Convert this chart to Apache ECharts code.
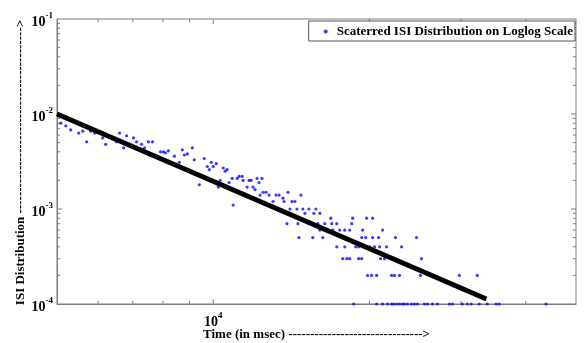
<!DOCTYPE html>
<html>
<head>
<meta charset="utf-8">
<script src="https://cdn.jsdelivr.net/npm/echarts@6/dist/echarts.min.js"></script>
<style>
html,body{margin:0;padding:0;background:#fff;}
#chart{width:585px;height:343px;}
</style>
</head>
<body>
<div id="chart"></div>
<script>
// ---- data ----
const seriesName = 'Scaterred ISI Distribution on Loglog Scale';
const xTitle = 'Time (in msec) ' + '-'.repeat(31) + '>';
const yTitle = 'ISI Distribution ' + '-'.repeat(43) + '>';

const timeMs = [
  5085, 5198, 5314, 5506, 5605, 5704, 5806, 5910, 6122, 6205,
  6513, 6600, 6719, 6808, 7021, 7116, 7275, 7373, 7503, 7637,
  7842, 7912, 8017, 8089, 8196, 8416, 8604, 8720, 8797, 8915,
  9114, 9194, 9399, 9610, 9739, 9824, 9912, 10000, 10134, 10223,
  10314, 10452, 10544, 10638, 10732, 10876, 10924, 11119, 11217, 11367,
  11417, 11621, 11723, 11827, 11933, 12038, 12146, 12253, 12415, 12307,
  12474, 12639, 12809, 13038, 13211, 13389, 13629, 13689, 13932, 14178,
  14369, 14755,
  14055, 14495, 14884, 15286, 15766,
  15018, 15628, 16048,
  13868, 14559, 15904, 16406, 16921, 17298, 18484,
  16846, 18565, 19751, 20281,
  14626, 15556, 16260, 19320, 19665, 20281, 20826, 22451, 24639,
  16048, 16334, 16995, 17531, 17923, 18323, 19405, 21199,
  17298, 17923, 18814, 19063, 20012, 20460, 20918, 21579, 23059,
  17763, 18080, 18323, 19063, 19320, 21012, 21386, 25189,
  19838, 20193, 20645, 22061, 22353, 22853, 25073, 29798, 32259,
  18646, 20645, 21199, 21673, 22061, 22255, 22555, 22853, 23160, 23364,
  23678, 24099, 24418, 24746, 25521, 25864, 26443, 27034, 28510, 28893,
  30191, 30866, 31418, 32550, 33722, 35090, 35563, 43773
];
const isiProb = [
  0.0080, 0.0075, 0.0068, 0.0063, 0.0066, 0.0051, 0.0066, 0.0063, 0.0056, 0.0048,
  0.0051, 0.0063, 0.0044, 0.0059, 0.0056, 0.0051, 0.0048, 0.0044, 0.0051, 0.0051,
  0.0034, 0.0040, 0.0040, 0.0039, 0.0041, 0.0036, 0.0031, 0.0042, 0.0037, 0.0038,
  0.0044, 0.0033, 0.0018, 0.0034, 0.0028, 0.0026, 0.0031, 0.0028, 0.0030, 0.0017,
  0.0020, 0.0027, 0.0025, 0.0026, 0.0019, 0.0021, 0.0011, 0.0021, 0.0022, 0.0022,
  0.0020, 0.0017, 0.0020, 0.0020, 0.0017, 0.0016, 0.0021, 0.0019, 0.0021, 0.0014,
  0.0015, 0.0015, 0.0014, 0.0012, 0.0014, 0.0014, 0.0013, 0.0012, 0.0015, 0.0012,
  0.0012, 0.0014,
  0.0010, 0.0010, 0.0010, 0.0010, 0.0010,
  0.0009, 0.0009, 0.0009,
  0.0007, 0.0007, 0.0007, 0.0007, 0.0007, 0.0007, 0.0007,
  0.0008, 0.0008, 0.0008, 0.0008,
  0.0005, 0.0005, 0.0005, 0.0005, 0.0005, 0.0005, 0.0005, 0.0005, 0.0005,
  0.0006, 0.0006, 0.0006, 0.0006, 0.0006, 0.0006, 0.0006, 0.0006,
  0.0004, 0.0004, 0.0004, 0.0004, 0.0004, 0.0004, 0.0004, 0.0004, 0.0004,
  0.0003, 0.0003, 0.0003, 0.0003, 0.0003, 0.0003, 0.0003, 0.0003,
  0.0002, 0.0002, 0.0002, 0.0002, 0.0002, 0.0002, 0.0002, 0.0002, 0.0002,
  0.0001, 0.0001, 0.0001, 0.0001, 0.0001, 0.0001, 0.0001, 0.0001, 0.0001, 0.0001,
  0.0001, 0.0001, 0.0001, 0.0001, 0.0001, 0.0001, 0.0001, 0.0001, 0.0001, 0.0001,
  0.0001, 0.0001, 0.0001, 0.0001, 0.0001, 0.0001, 0.0001, 0.0001
];
const fitX = [5000, 33600];
const fitY = [0.0100, 0.000113];

const xMin = 5000, xMax = 50000;
const yMin = 1e-4, yMax = 1e-1;
const xTickVals = [6000, 7000, 8000, 9000, 10000, 20000, 30000, 40000];
const yTickVals = [2e-4, 3e-4, 4e-4, 5e-4, 6e-4, 7e-4, 8e-4, 9e-4, 1e-3,
  2e-3, 3e-3, 4e-3, 5e-3, 6e-3, 7e-3, 8e-3, 9e-3, 1e-2,
  2e-2, 3e-2, 4e-2, 5e-2, 6e-2, 7e-2, 8e-2, 9e-2];

// ---- chart ----
const FONT = '"Liberation Serif", "Times New Roman", serif';
const AXIS_COLOR = '#7a7a7a';
function isMajor(v) {
  const l = Math.log10(v);
  return Math.abs(l - Math.round(l)) < 1e-6;
}
function powLabel(v) {
  const l = Math.log10(v);
  const r = Math.round(l);
  if (Math.abs(l - r) > 1e-3) return '';
  return '{b|10}{s|' + r + '}';
}
const labelRich = {
  b: {fontFamily: FONT, fontWeight: 'bold', fontSize: 14, color: '#000', lineHeight: 18, verticalAlign: 'bottom'},
  s: {fontFamily: FONT, fontWeight: 'bold', fontSize: 9, color: '#000', lineHeight: 18, verticalAlign: 'top'}
};

const chart = echarts.init(document.getElementById('chart'), null, {renderer: 'canvas'});
chart.setOption({
  animation: false,
  backgroundColor: '#fff',
  grid: {left: 57, right: 9, top: 19, bottom: 39, containLabel: false, outerBoundsMode: 'none',
    show: true, borderColor: AXIS_COLOR, borderWidth: 1, backgroundColor: 'transparent'},
  legend: {
    data: [seriesName],
    right: 10, top: 21,
    padding: [4, 2, 3, 15],
    borderColor: '#555', borderWidth: 1, backgroundColor: '#fff',
    itemWidth: 4, itemHeight: 4,
    icon: 'circle',
    textStyle: {fontFamily: FONT, fontWeight: 'bold', fontSize: 13, color: '#000', padding: [0, 0, 0, 4]}
  },
  xAxis: {
    type: 'log', logBase: 10, min: xMin, max: xMax,
    name: xTitle, nameLocation: 'middle', nameGap: 24, nameMoveOverlap: false,
    nameTextStyle: {fontFamily: FONT, fontWeight: 'bold', fontSize: 13, color: '#000'},
    axisLine: {show: true, lineStyle: {color: AXIS_COLOR}},
    axisTick: {show: false},
    splitLine: {show: false},
    minorTick: {show: false},
    axisLabel: {formatter: powLabel, rich: labelRich, margin: 7, showMinLabel: false, showMaxLabel: false}
  },
  yAxis: {
    type: 'log', logBase: 10, min: yMin, max: yMax,
    name: yTitle, nameLocation: 'middle', nameGap: 30, nameRotate: 90, nameMoveOverlap: false,
    nameTextStyle: {fontFamily: FONT, fontWeight: 'bold', fontSize: 13, color: '#000', padding: [0, 2, 0, 0]},
    axisLine: {show: true, lineStyle: {color: AXIS_COLOR}},
    axisTick: {show: false},
    splitLine: {show: false},
    axisLabel: {formatter: powLabel, rich: labelRich, margin: 4, padding: [2, 0, 0, 0]}
  },
  series: [
    {
      type: 'custom', silent: true, z: 1,
      data: xTickVals.map(v => [v, yMin]),
      renderItem: function (params, api) {
        const v = api.value(0);
        const b = api.coord([v, yMin]);
        const t = api.coord([v, yMax]);
        const len = isMajor(v) ? 5 : 3;
        const st = {stroke: AXIS_COLOR, lineWidth: 1};
        return {type: 'group', children: [
          {type: 'line', shape: {x1: b[0], y1: b[1], x2: b[0], y2: b[1] - len}, style: st},
          {type: 'line', shape: {x1: t[0], y1: t[1], x2: t[0], y2: t[1] + len}, style: st}
        ]};
      }
    },
    {
      type: 'custom', silent: true, z: 1,
      data: yTickVals.map(v => [xMin, v]),
      renderItem: function (params, api) {
        const v = api.value(1);
        const l = api.coord([xMin, v]);
        const r = api.coord([xMax, v]);
        const len = isMajor(v) ? 5 : 3;
        const st = {stroke: AXIS_COLOR, lineWidth: 1};
        return {type: 'group', children: [
          {type: 'line', shape: {x1: l[0], y1: l[1], x2: l[0] + len, y2: l[1]}, style: st},
          {type: 'line', shape: {x1: r[0], y1: r[1], x2: r[0] - len, y2: r[1]}, style: st}
        ]};
      }
    },
    {
      name: seriesName,
      type: 'scatter', z: 3,
      symbol: 'circle', symbolSize: 3.2,
      itemStyle: {color: '#0a0aff'},
      data: timeMs.map((x, i) => [x, isiProb[i]])
    },
    {
      name: 'fit',
      type: 'line', z: 4,
      symbol: 'none',
      lineStyle: {color: '#000', width: 5},
      data: fitX.map((x, i) => [x, fitY[i]])
    }
  ]
});
</script>
</body>
</html>
